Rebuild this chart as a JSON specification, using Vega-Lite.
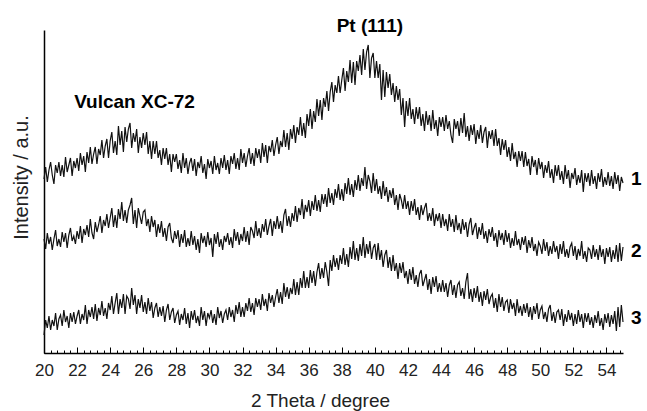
{
"$schema": "https://vega.github.io/schema/vega-lite/v6.json",
"width": 579, "height": 323,
"autosize": {"type": "none"},
"padding": {"left": 44, "top": 30, "right": 24, "bottom": 58},
"config": {"view": {"stroke": null}, "font": "Liberation Sans"},
"datasets": {
"xrd": [
{"x":20.0,"a":174,"b":114,"c":18},{"x":20.1,"a":186,"b":104,"c":33},{"x":20.2,"a":171,"b":120,"c":25},{"x":20.3,"a":183,"b":109,"c":37},{"x":20.4,"a":191,"b":116,"c":23},{"x":20.5,"a":178,"b":103,"c":33},{"x":20.6,"a":169,"b":114,"c":27},{"x":20.7,"a":188,"b":123,"c":40},{"x":20.8,"a":180,"b":107,"c":23},{"x":20.9,"a":191,"b":114,"c":34},
{"x":21.0,"a":177,"b":106,"c":38},{"x":21.1,"a":188,"b":121,"c":27},{"x":21.2,"a":176,"b":111,"c":43},{"x":21.3,"a":196,"b":120,"c":31},{"x":21.4,"a":181,"b":105,"c":37},{"x":21.5,"a":188,"b":118,"c":25},{"x":21.6,"a":195,"b":125,"c":40},{"x":21.7,"a":177,"b":112,"c":31},{"x":21.8,"a":192,"b":117,"c":41},{"x":21.9,"a":185,"b":109,"c":29},
{"x":22.0,"a":195,"b":122,"c":37},{"x":22.1,"a":182,"b":114,"c":43},{"x":22.2,"a":200,"b":127,"c":29},{"x":22.3,"a":188,"b":110,"c":39},{"x":22.4,"a":197,"b":124,"c":33},{"x":22.5,"a":181,"b":118,"c":48},{"x":22.6,"a":201,"b":128,"c":29},{"x":22.7,"a":190,"b":116,"c":43},{"x":22.8,"a":206,"b":134,"c":36},{"x":22.9,"a":189,"b":120,"c":46},
{"x":23.0,"a":199,"b":114,"c":34},{"x":23.1,"a":206,"b":131,"c":49},{"x":23.2,"a":189,"b":121,"c":32},{"x":23.3,"a":204,"b":128,"c":45},{"x":23.4,"a":198,"b":137,"c":38},{"x":23.5,"a":213,"b":120,"c":52},{"x":23.6,"a":195,"b":133,"c":37},{"x":23.7,"a":207,"b":127,"c":45},{"x":23.8,"a":214,"b":139,"c":34},{"x":23.9,"a":195,"b":125,"c":50},
{"x":24.0,"a":212,"b":135,"c":43},{"x":24.1,"a":221,"b":145,"c":57},{"x":24.2,"a":200,"b":126,"c":39},{"x":24.3,"a":212,"b":138,"c":50},{"x":24.4,"a":198,"b":125,"c":60},{"x":24.5,"a":227,"b":144,"c":39},{"x":24.6,"a":208,"b":134,"c":54},{"x":24.7,"a":222,"b":151,"c":45},{"x":24.8,"a":201,"b":132,"c":59},{"x":24.9,"a":226,"b":143,"c":39},
{"x":25.0,"a":211,"b":130,"c":57},{"x":25.1,"a":224,"b":143,"c":54},{"x":25.2,"a":230,"b":148,"c":44},{"x":25.3,"a":205,"b":155,"c":65},{"x":25.4,"a":220,"b":129,"c":48},{"x":25.5,"a":211,"b":143,"c":58},{"x":25.6,"a":224,"b":125,"c":39},{"x":25.7,"a":200,"b":145,"c":54},{"x":25.8,"a":216,"b":137,"c":45},{"x":25.9,"a":205,"b":129,"c":58},
{"x":26.0,"a":220,"b":141,"c":41},{"x":26.1,"a":208,"b":143,"c":51},{"x":26.2,"a":221,"b":127,"c":39},{"x":26.3,"a":199,"b":134,"c":55},{"x":26.4,"a":212,"b":121,"c":42},{"x":26.5,"a":194,"b":137,"c":51},{"x":26.6,"a":212,"b":126,"c":35},{"x":26.7,"a":199,"b":133,"c":45},{"x":26.8,"a":212,"b":116,"c":50},{"x":26.9,"a":195,"b":129,"c":36},
{"x":27.0,"a":203,"b":120,"c":46},{"x":27.1,"a":188,"b":132,"c":37},{"x":27.2,"a":205,"b":116,"c":47},{"x":27.3,"a":194,"b":125,"c":31},{"x":27.4,"a":205,"b":112,"c":43},{"x":27.5,"a":188,"b":126,"c":49},{"x":27.6,"a":199,"b":130,"c":33},{"x":27.7,"a":181,"b":115,"c":41},{"x":27.8,"a":199,"b":110,"c":45},{"x":27.9,"a":191,"b":122,"c":30},
{"x":28.0,"a":199,"b":114,"c":38},{"x":28.1,"a":184,"b":123,"c":42},{"x":28.2,"a":193,"b":106,"c":28},{"x":28.3,"a":180,"b":119,"c":39},{"x":28.4,"a":200,"b":110,"c":33},{"x":28.5,"a":185,"b":123,"c":45},{"x":28.6,"a":195,"b":106,"c":29},{"x":28.7,"a":179,"b":115,"c":40},{"x":28.8,"a":190,"b":107,"c":25},{"x":28.9,"a":195,"b":122,"c":42},
{"x":29.0,"a":182,"b":108,"c":33},{"x":29.1,"a":194,"b":117,"c":43},{"x":29.2,"a":177,"b":103,"c":30},{"x":29.3,"a":191,"b":114,"c":37},{"x":29.4,"a":185,"b":100,"c":27},{"x":29.5,"a":197,"b":120,"c":46},{"x":29.6,"a":180,"b":110,"c":33},{"x":29.7,"a":189,"b":117,"c":42},{"x":29.8,"a":174,"b":106,"c":27},{"x":29.9,"a":194,"b":121,"c":40},
{"x":30.0,"a":185,"b":108,"c":35},{"x":30.1,"a":192,"b":115,"c":43},{"x":30.2,"a":179,"b":96,"c":30},{"x":30.3,"a":197,"b":119,"c":39},{"x":30.4,"a":183,"b":109,"c":28},{"x":30.5,"a":190,"b":121,"c":46},{"x":30.6,"a":179,"b":106,"c":35},{"x":30.7,"a":195,"b":114,"c":42},{"x":30.8,"a":185,"b":103,"c":30},{"x":30.9,"a":198,"b":117,"c":39},
{"x":31.0,"a":183,"b":111,"c":43},{"x":31.1,"a":193,"b":120,"c":33},{"x":31.2,"a":179,"b":108,"c":46},{"x":31.3,"a":197,"b":116,"c":36},{"x":31.4,"a":189,"b":105,"c":43},{"x":31.5,"a":200,"b":124,"c":31},{"x":31.6,"a":184,"b":112,"c":48},{"x":31.7,"a":195,"b":121,"c":39},{"x":31.8,"a":183,"b":108,"c":51},{"x":31.9,"a":204,"b":119,"c":36},
{"x":32.0,"a":190,"b":112,"c":46},{"x":32.1,"a":200,"b":126,"c":36},{"x":32.2,"a":186,"b":111,"c":50},{"x":32.3,"a":197,"b":122,"c":42},{"x":32.4,"a":205,"b":108,"c":55},{"x":32.5,"a":189,"b":126,"c":41},{"x":32.6,"a":200,"b":122,"c":50},{"x":32.7,"a":187,"b":115,"c":38},{"x":32.8,"a":205,"b":132,"c":55},{"x":32.9,"a":195,"b":117,"c":46},
{"x":33.0,"a":204,"b":125,"c":54},{"x":33.1,"a":190,"b":115,"c":43},{"x":33.2,"a":210,"b":129,"c":59},{"x":33.3,"a":196,"b":121,"c":47},{"x":33.4,"a":208,"b":134,"c":54},{"x":33.5,"a":190,"b":118,"c":42},{"x":33.6,"a":207,"b":127,"c":60},{"x":33.7,"a":201,"b":134,"c":50},{"x":33.8,"a":213,"b":117,"c":58},{"x":33.9,"a":197,"b":132,"c":46},
{"x":34.0,"a":208,"b":124,"c":56},{"x":34.1,"a":216,"b":137,"c":64},{"x":34.2,"a":199,"b":124,"c":50},{"x":34.3,"a":212,"b":132,"c":61},{"x":34.4,"a":206,"b":120,"c":49},{"x":34.5,"a":223,"b":138,"c":70},{"x":34.6,"a":206,"b":144,"c":56},{"x":34.7,"a":220,"b":127,"c":66},{"x":34.8,"a":203,"b":137,"c":54},{"x":34.9,"a":224,"b":126,"c":65},
{"x":35.0,"a":214,"b":140,"c":59},{"x":35.1,"a":228,"b":132,"c":74},{"x":35.2,"a":210,"b":147,"c":58},{"x":35.3,"a":226,"b":131,"c":71},{"x":35.4,"a":218,"b":145,"c":58},{"x":35.5,"a":236,"b":138,"c":75},{"x":35.6,"a":217,"b":154,"c":65},{"x":35.7,"a":230,"b":134,"c":82},{"x":35.8,"a":215,"b":148,"c":65},{"x":35.9,"a":239,"b":141,"c":76},
{"x":36.0,"a":227,"b":153,"c":65},{"x":36.1,"a":244,"b":137,"c":83},{"x":36.2,"a":224,"b":152,"c":70},{"x":36.3,"a":242,"b":143,"c":82},{"x":36.4,"a":231,"b":158,"c":67},{"x":36.5,"a":254,"b":142,"c":81},{"x":36.6,"a":237,"b":153,"c":90},{"x":36.7,"a":253,"b":141,"c":74},{"x":36.8,"a":233,"b":159,"c":85},{"x":36.9,"a":255,"b":149,"c":75},
{"x":37.0,"a":246,"b":159,"c":91},{"x":37.1,"a":262,"b":146,"c":81},{"x":37.2,"a":242,"b":165,"c":67},{"x":37.3,"a":261,"b":150,"c":93},{"x":37.4,"a":271,"b":160,"c":82},{"x":37.5,"a":251,"b":148,"c":98},{"x":37.6,"a":268,"b":164,"c":86},{"x":37.7,"a":260,"b":155,"c":95},{"x":37.8,"a":277,"b":169,"c":83},{"x":37.9,"a":260,"b":153,"c":98},
{"x":38.0,"a":273,"b":164,"c":89},{"x":38.1,"a":285,"b":152,"c":105},{"x":38.2,"a":262,"b":170,"c":88},{"x":38.3,"a":282,"b":159,"c":99},{"x":38.4,"a":271,"b":175,"c":86},{"x":38.5,"a":293,"b":158,"c":106},{"x":38.6,"a":270,"b":169,"c":94},{"x":38.7,"a":291,"b":156,"c":112},{"x":38.8,"a":268,"b":173,"c":93},{"x":38.9,"a":292,"b":163,"c":105},
{"x":39.0,"a":282,"b":178,"c":92},{"x":39.1,"a":298,"b":162,"c":109},{"x":39.2,"a":278,"b":175,"c":97},{"x":39.3,"a":304,"b":167,"c":116},{"x":39.4,"a":283,"b":186,"c":95},{"x":39.5,"a":301,"b":164,"c":109},{"x":39.6,"a":308,"b":178,"c":99},{"x":39.7,"a":275,"b":172,"c":112},{"x":39.8,"a":295,"b":160,"c":94},{"x":39.9,"a":300,"b":180,"c":105},
{"x":40.0,"a":275,"b":162,"c":109},{"x":40.1,"a":292,"b":174,"c":93},{"x":40.2,"a":275,"b":159,"c":110},{"x":40.3,"a":289,"b":167,"c":93},{"x":40.4,"a":253,"b":154,"c":103},{"x":40.5,"a":283,"b":172,"c":86},{"x":40.6,"a":256,"b":157,"c":98},{"x":40.7,"a":281,"b":166,"c":103},{"x":40.8,"a":265,"b":151,"c":85},{"x":40.9,"a":279,"b":163,"c":96},
{"x":41.0,"a":258,"b":155,"c":82},{"x":41.1,"a":270,"b":165,"c":98},{"x":41.2,"a":251,"b":148,"c":82},{"x":41.3,"a":267,"b":158,"c":90},{"x":41.4,"a":253,"b":143,"c":74},{"x":41.5,"a":264,"b":159,"c":90},{"x":41.6,"a":238,"b":153,"c":80},{"x":41.7,"a":255,"b":144,"c":91},{"x":41.8,"a":226,"b":158,"c":75},{"x":41.9,"a":252,"b":144,"c":82},
{"x":42.0,"a":237,"b":152,"c":69},{"x":42.1,"a":255,"b":138,"c":84},{"x":42.2,"a":234,"b":152,"c":73},{"x":42.3,"a":244,"b":142,"c":86},{"x":42.4,"a":229,"b":154,"c":69},{"x":42.5,"a":246,"b":138,"c":78},{"x":42.6,"a":234,"b":146,"c":66},{"x":42.7,"a":246,"b":133,"c":79},{"x":42.8,"a":227,"b":148,"c":83},{"x":42.9,"a":239,"b":138,"c":67},
{"x":43.0,"a":222,"b":145,"c":73},{"x":43.1,"a":242,"b":150,"c":79},{"x":43.2,"a":228,"b":132,"c":63},{"x":43.3,"a":238,"b":140,"c":74},{"x":43.4,"a":222,"b":132,"c":59},{"x":43.5,"a":243,"b":145,"c":76},{"x":43.6,"a":224,"b":127,"c":66},{"x":43.7,"a":233,"b":139,"c":77},{"x":43.8,"a":217,"b":132,"c":61},{"x":43.9,"a":236,"b":140,"c":70},
{"x":44.0,"a":226,"b":125,"c":61},{"x":44.1,"a":236,"b":139,"c":73},{"x":44.2,"a":222,"b":127,"c":61},{"x":44.3,"a":238,"b":134,"c":70},{"x":44.4,"a":224,"b":122,"c":56},{"x":44.5,"a":232,"b":139,"c":68},{"x":44.6,"a":218,"b":126,"c":73},{"x":44.7,"a":210,"b":134,"c":58},{"x":44.8,"a":234,"b":121,"c":68},{"x":44.9,"a":224,"b":138,"c":55},
{"x":45.0,"a":232,"b":123,"c":68},{"x":45.1,"a":217,"b":130,"c":71},{"x":45.2,"a":235,"b":119,"c":57},{"x":45.3,"a":220,"b":134,"c":65},{"x":45.4,"a":240,"b":123,"c":54},{"x":45.5,"a":216,"b":131,"c":71},{"x":45.6,"a":227,"b":116,"c":80},{"x":45.7,"a":212,"b":129,"c":54},{"x":45.8,"a":228,"b":135,"c":64},{"x":45.9,"a":218,"b":118,"c":51},
{"x":46.0,"a":229,"b":125,"c":65},{"x":46.1,"a":209,"b":130,"c":55},{"x":46.2,"a":223,"b":114,"c":67},{"x":46.3,"a":214,"b":126,"c":51},{"x":46.4,"a":228,"b":118,"c":61},{"x":46.5,"a":210,"b":130,"c":47},{"x":46.6,"a":221,"b":114,"c":62},{"x":46.7,"a":226,"b":122,"c":53},{"x":46.8,"a":205,"b":110,"c":64},{"x":46.9,"a":222,"b":124,"c":49},
{"x":47.0,"a":214,"b":116,"c":56},{"x":47.1,"a":223,"b":126,"c":59},{"x":47.2,"a":207,"b":112,"c":45},{"x":47.3,"a":224,"b":120,"c":55},{"x":47.4,"a":207,"b":106,"c":41},{"x":47.5,"a":215,"b":123,"c":59},{"x":47.6,"a":198,"b":113,"c":46},{"x":47.7,"a":214,"b":120,"c":56},{"x":47.8,"a":203,"b":108,"c":42},{"x":47.9,"a":213,"b":123,"c":51},
{"x":48.0,"a":196,"b":111,"c":53},{"x":48.1,"a":206,"b":120,"c":40},{"x":48.2,"a":192,"b":105,"c":54},{"x":48.3,"a":210,"b":115,"c":44},{"x":48.4,"a":194,"b":107,"c":50},{"x":48.5,"a":201,"b":122,"c":37},{"x":48.6,"a":186,"b":108,"c":54},{"x":48.7,"a":202,"b":114,"c":40},{"x":48.8,"a":192,"b":103,"c":47},{"x":48.9,"a":202,"b":116,"c":37},
{"x":49.0,"a":186,"b":108,"c":49},{"x":49.1,"a":201,"b":117,"c":40},{"x":49.2,"a":187,"b":100,"c":50},{"x":49.3,"a":194,"b":113,"c":36},{"x":49.4,"a":178,"b":105,"c":46},{"x":49.5,"a":197,"b":116,"c":33},{"x":49.6,"a":186,"b":102,"c":47},{"x":49.7,"a":193,"b":109,"c":39},{"x":49.8,"a":178,"b":97,"c":50},{"x":49.9,"a":195,"b":111,"c":34},
{"x":50.0,"a":184,"b":107,"c":43},{"x":50.1,"a":191,"b":99,"c":47},{"x":50.2,"a":175,"b":114,"c":34},{"x":50.3,"a":188,"b":102,"c":41},{"x":50.4,"a":180,"b":111,"c":31},{"x":50.5,"a":192,"b":97,"c":44},{"x":50.6,"a":175,"b":107,"c":48},{"x":50.7,"a":184,"b":99,"c":32},{"x":50.8,"a":170,"b":112,"c":41},{"x":50.9,"a":188,"b":101,"c":30},
{"x":51.0,"a":177,"b":107,"c":41},{"x":51.1,"a":188,"b":94,"c":43},{"x":51.2,"a":173,"b":109,"c":33},{"x":51.3,"a":182,"b":99,"c":44},{"x":51.4,"a":169,"b":112,"c":27},{"x":51.5,"a":188,"b":96,"c":39},{"x":51.6,"a":174,"b":104,"c":31},{"x":51.7,"a":183,"b":95,"c":43},{"x":51.8,"a":165,"b":106,"c":33},{"x":51.9,"a":180,"b":110,"c":40},
{"x":52.0,"a":174,"b":97,"c":27},{"x":52.1,"a":185,"b":107,"c":39},{"x":52.2,"a":168,"b":93,"c":29},{"x":52.3,"a":178,"b":104,"c":43},{"x":52.4,"a":170,"b":97,"c":31},{"x":52.5,"a":183,"b":112,"c":39},{"x":52.6,"a":161,"b":94,"c":25},{"x":52.7,"a":180,"b":102,"c":40},{"x":52.8,"a":171,"b":91,"c":31},{"x":52.9,"a":180,"b":105,"c":40},
{"x":53.0,"a":167,"b":103,"c":28},{"x":53.1,"a":183,"b":94,"c":36},{"x":53.2,"a":169,"b":108,"c":25},{"x":53.3,"a":177,"b":96,"c":38},{"x":53.4,"a":164,"b":104,"c":30},{"x":53.5,"a":180,"b":93,"c":42},{"x":53.6,"a":171,"b":108,"c":27},{"x":53.7,"a":184,"b":96,"c":35},{"x":53.8,"a":166,"b":104,"c":23},{"x":53.9,"a":176,"b":89,"c":39},
{"x":54.0,"a":168,"b":105,"c":30},{"x":54.1,"a":181,"b":96,"c":40},{"x":54.2,"a":167,"b":106,"c":26},{"x":54.3,"a":177,"b":91,"c":38},{"x":54.4,"a":164,"b":103,"c":29},{"x":54.5,"a":181,"b":94,"c":42},{"x":54.6,"a":169,"b":108,"c":22},{"x":54.7,"a":178,"b":91,"c":46},{"x":54.8,"a":162,"b":110,"c":26},{"x":54.9,"a":176,"b":92,"c":48},
{"x":55.0,"a":170,"b":106,"c":31}
],
"notes": [
{"x":25.47,"y":251,"t":"Vulcan XC-72"},
{"x":39.7,"y":327,"t":"Pt (111)"},
{"x":55.8,"y":174,"t":"1"},
{"x":55.8,"y":102,"t":"2"},
{"x":55.8,"y":35,"t":"3"}
]
},
"layer": [
{
"data": {"name": "xrd"},
"transform": [{"fold": ["a","b","c"], "as": ["s","v"]}],
"mark": {"type": "line", "strokeWidth": 1.2, "color": "#111"},
"encoding": {
"x": {"field": "x", "type": "quantitative", "scale": {"domain": [20,55], "nice": false, "zero": false},
"axis": {"orient": "bottom", "values": [20,22,24,26,28,30,32,34,36,38,40,42,44,46,48,50,52,54], "grid": false, "tickSize": -6, "tickColor": "#000", "tickWidth": 1, "domainColor": "#000", "domainWidth": 1.5, "labelFontSize": 17, "labelColor": "#222", "labelPadding": 15, "labelFlush": false, "title": "2 Theta / degree", "titleFontSize": 19, "titleFontWeight": "normal", "titleColor": "#222", "titleX": 276, "titleY": 53, "titleAlign": "center", "titleBaseline": "alphabetic"}},
"y": {"field": "v", "type": "quantitative", "scale": {"domain": [0,323], "nice": false, "zero": false},
"axis": {"ticks": false, "labels": false, "grid": false, "domainColor": "#000", "domainWidth": 1.5, "title": "Intensity / a.u.", "titleFontSize": 20, "titleFontWeight": "normal", "titleColor": "#222", "titleX": -23, "titleY": 147, "titleAngle": -90, "titleAlign": "center", "titleBaseline": "middle"}},
"detail": {"field": "s"}
}
},
{
"data": {"name": "notes"},
"mark": {"type": "text", "font": "Liberation Sans", "fontWeight": "bold", "fontSize": 19, "color": "#000", "align": "center", "baseline": "middle"},
"encoding": {
"x": {"field": "x", "type": "quantitative", "scale": {"domain": [20,55], "nice": false, "zero": false},
"axis": {"orient": "bottom", "values": [20,20.4,20.8,21.2,21.6,22,22.4,22.8,23.2,23.6,24,24.4,24.8,25.2,25.6,26,26.4,26.8,27.2,27.6,28,28.4,28.8,29.2,29.6,30,30.4,30.8,31.2,31.6,32,32.4,32.8,33.2,33.6,34,34.4,34.8,35.2,35.6,36,36.4,36.8,37.2,37.6,38,38.4,38.8,39.2,39.6,40,40.4,40.8,41.2,41.6,42,42.4,42.8,43.2,43.6,44,44.4,44.8,45.2,45.6,46,46.4,46.8,47.2,47.6,48,48.4,48.8,49.2,49.6,50,50.4,50.8,51.2,51.6,52,52.4,52.8,53.2,53.6,54,54.4,54.8], "labels": false, "domain": false, "grid": false, "tickSize": -3, "tickColor": "#000", "tickWidth": 1, "title": null}},
"y": {"field": "y", "type": "quantitative", "scale": {"domain": [0,323], "nice": false, "zero": false},
"axis": {"ticks": false, "labels": false, "grid": false, "domainColor": "#000", "domainWidth": 1.5, "title": "Intensity / a.u.", "titleFontSize": 20, "titleFontWeight": "normal", "titleColor": "#222", "titleX": -23, "titleY": 147, "titleAngle": -90, "titleAlign": "center", "titleBaseline": "middle"}},
"text": {"field": "t"}
}
}
],
"resolve": {"axis": {"x": "independent"}}
}
